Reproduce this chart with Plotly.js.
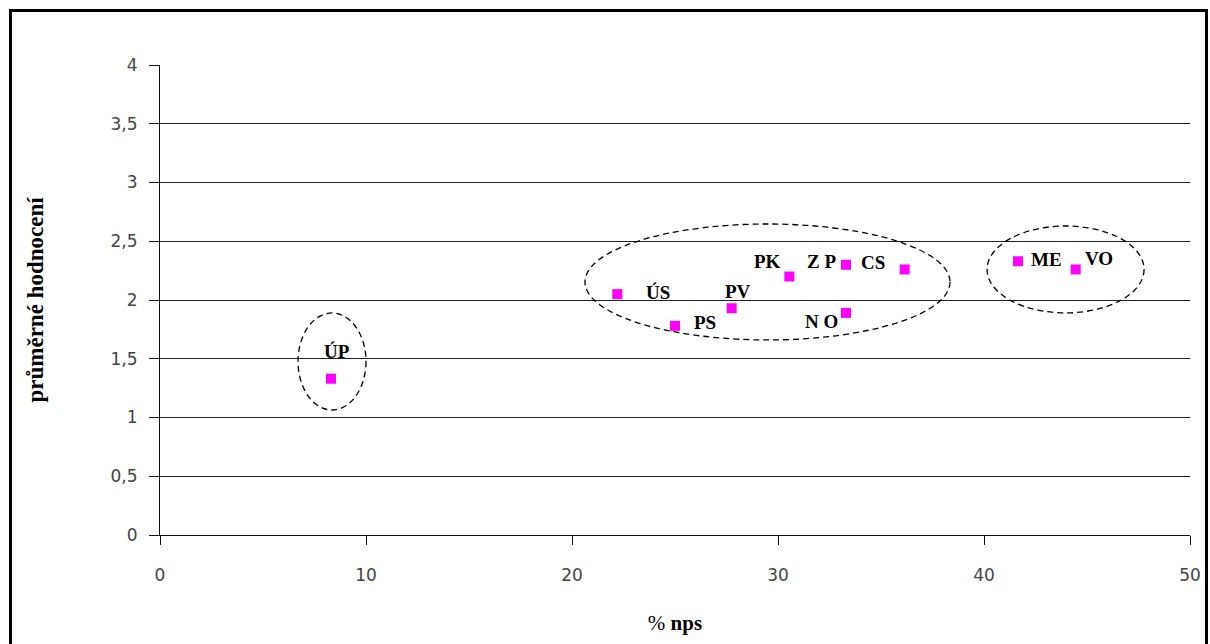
<!DOCTYPE html>
<html>
<head>
<meta charset="utf-8">
<script src="https://cdn.plot.ly/plotly-3.0.1.min.js"></script>
<style>
html,body{margin:0;padding:0;background:#fff;}
#wrap{position:relative;width:1210px;height:644px;overflow:hidden;}
#chart{position:absolute;left:0;top:0;width:1210px;height:644px;}
#frame{position:absolute;left:9px;top:9px;width:1193px;height:700px;border:3px solid #000;pointer-events:none;}
</style>
</head>
<body>
<div id="wrap"><div id="chart"></div><div id="frame"></div></div>
<script>
// Data
const regions = ["ÚP", "ÚS", "PS", "PV", "PK", "ZP", "NO", "CS", "ME", "VO"];
const npsPct = [8.3, 22.2, 25.0, 27.75, 30.55, 33.3, 33.3, 36.15, 41.65, 44.45];
const avgRating = [1.33, 2.05, 1.78, 1.93, 2.20, 2.30, 1.89, 2.26, 2.33, 2.26];
const yTickVals = [0, 0.5, 1, 1.5, 2, 2.5, 3, 3.5, 4];
const yTickText = ["0", "0,5", "1", "1,5", "2", "2,5", "3", "3,5", "4"];
const xTickVals = [0, 10, 20, 30, 40, 50];
const xTickText = ["0", "10", "20", "30", "40", "50"];

// label offsets (pixels) relative to each point
const labelShift = {
  "ÚP": [6, 27], "ÚS": [41, 2], "PS": [30, 3], "PV": [6, 17], "PK": [-22, 15],
  "ZP": [-24, 3], "NO": [-24, -9], "CS": [-32, 7], "ME": [29, 2], "VO": [23, 11]
};
const labelText = {"ZP": "Z P", "NO": "N O"};

const trace = {
  type: "scatter",
  mode: "markers",
  x: npsPct,
  y: avgRating,
  marker: {symbol: "square", size: 10, color: "#FF00FF"},
  hoverinfo: "skip",
  showlegend: false
};

const serif = "Liberation Serif, Times New Roman, serif";
const annotations = regions.map((r, i) => ({
  x: npsPct[i], y: avgRating[i], xref: "x", yref: "y",
  text: "<b>" + (labelText[r] || r) + "</b>", showarrow: false,
  xshift: labelShift[r][0], yshift: labelShift[r][1],
  font: {family: serif, size: 19, color: "#000"}
}));

const dashEll = {type: "circle", xref: "x", yref: "y", layer: "above", line: {color: "#000", width: 1.3, dash: "6px,4px"}, fillcolor: "rgba(0,0,0,0)"};
const shapes = [
  Object.assign({}, dashEll, {x0: 6.7, x1: 10.0, y0: 1.064, y1: 1.89}),
  Object.assign({}, dashEll, {x0: 20.63, x1: 38.35, y0: 1.66, y1: 2.647}),
  Object.assign({}, dashEll, {x0: 40.15, x1: 47.77, y0: 1.89, y1: 2.63})
];

const tickFont = {family: "DejaVu Sans, Verdana, sans-serif", size: 17, color: "#444"};

const layout = {
  width: 1210, height: 644,
  margin: {l: 160, r: 20, t: 65, b: 109},
  paper_bgcolor: "#fff", plot_bgcolor: "#fff",
  showlegend: false,
  xaxis: {
    range: [0, 50], tickvals: xTickVals, ticktext: xTickText,
    showgrid: false, zeroline: false, showline: true, linecolor: "#111", linewidth: 1,
    ticks: "outside", ticklen: 9, tickcolor: "#111",
    ticklabelstandoff: 16,
    tickfont: tickFont,
    title: {text: "% <b>nps</b>", standoff: 30, font: {family: serif, size: 21, color: "#000"}}
  },
  yaxis: {
    range: [0, 4], tickvals: yTickVals, ticktext: yTickText,
    showgrid: true, gridcolor: "#222", gridwidth: 1,
    zeroline: false, showline: true, linecolor: "#111", linewidth: 1,
    ticks: "outside", ticklen: 10, tickcolor: "#111",
    ticklabelstandoff: 8,
    tickfont: tickFont,
    title: {text: "<b>průměrné hodnocení</b>", standoff: 60, font: {family: serif, size: 23, color: "#000"}}
  },
  annotations: annotations,
  shapes: shapes
};

Plotly.newPlot("chart", [trace], layout, {displayModeBar: false, staticPlot: true});
</script>
</body>
</html>
